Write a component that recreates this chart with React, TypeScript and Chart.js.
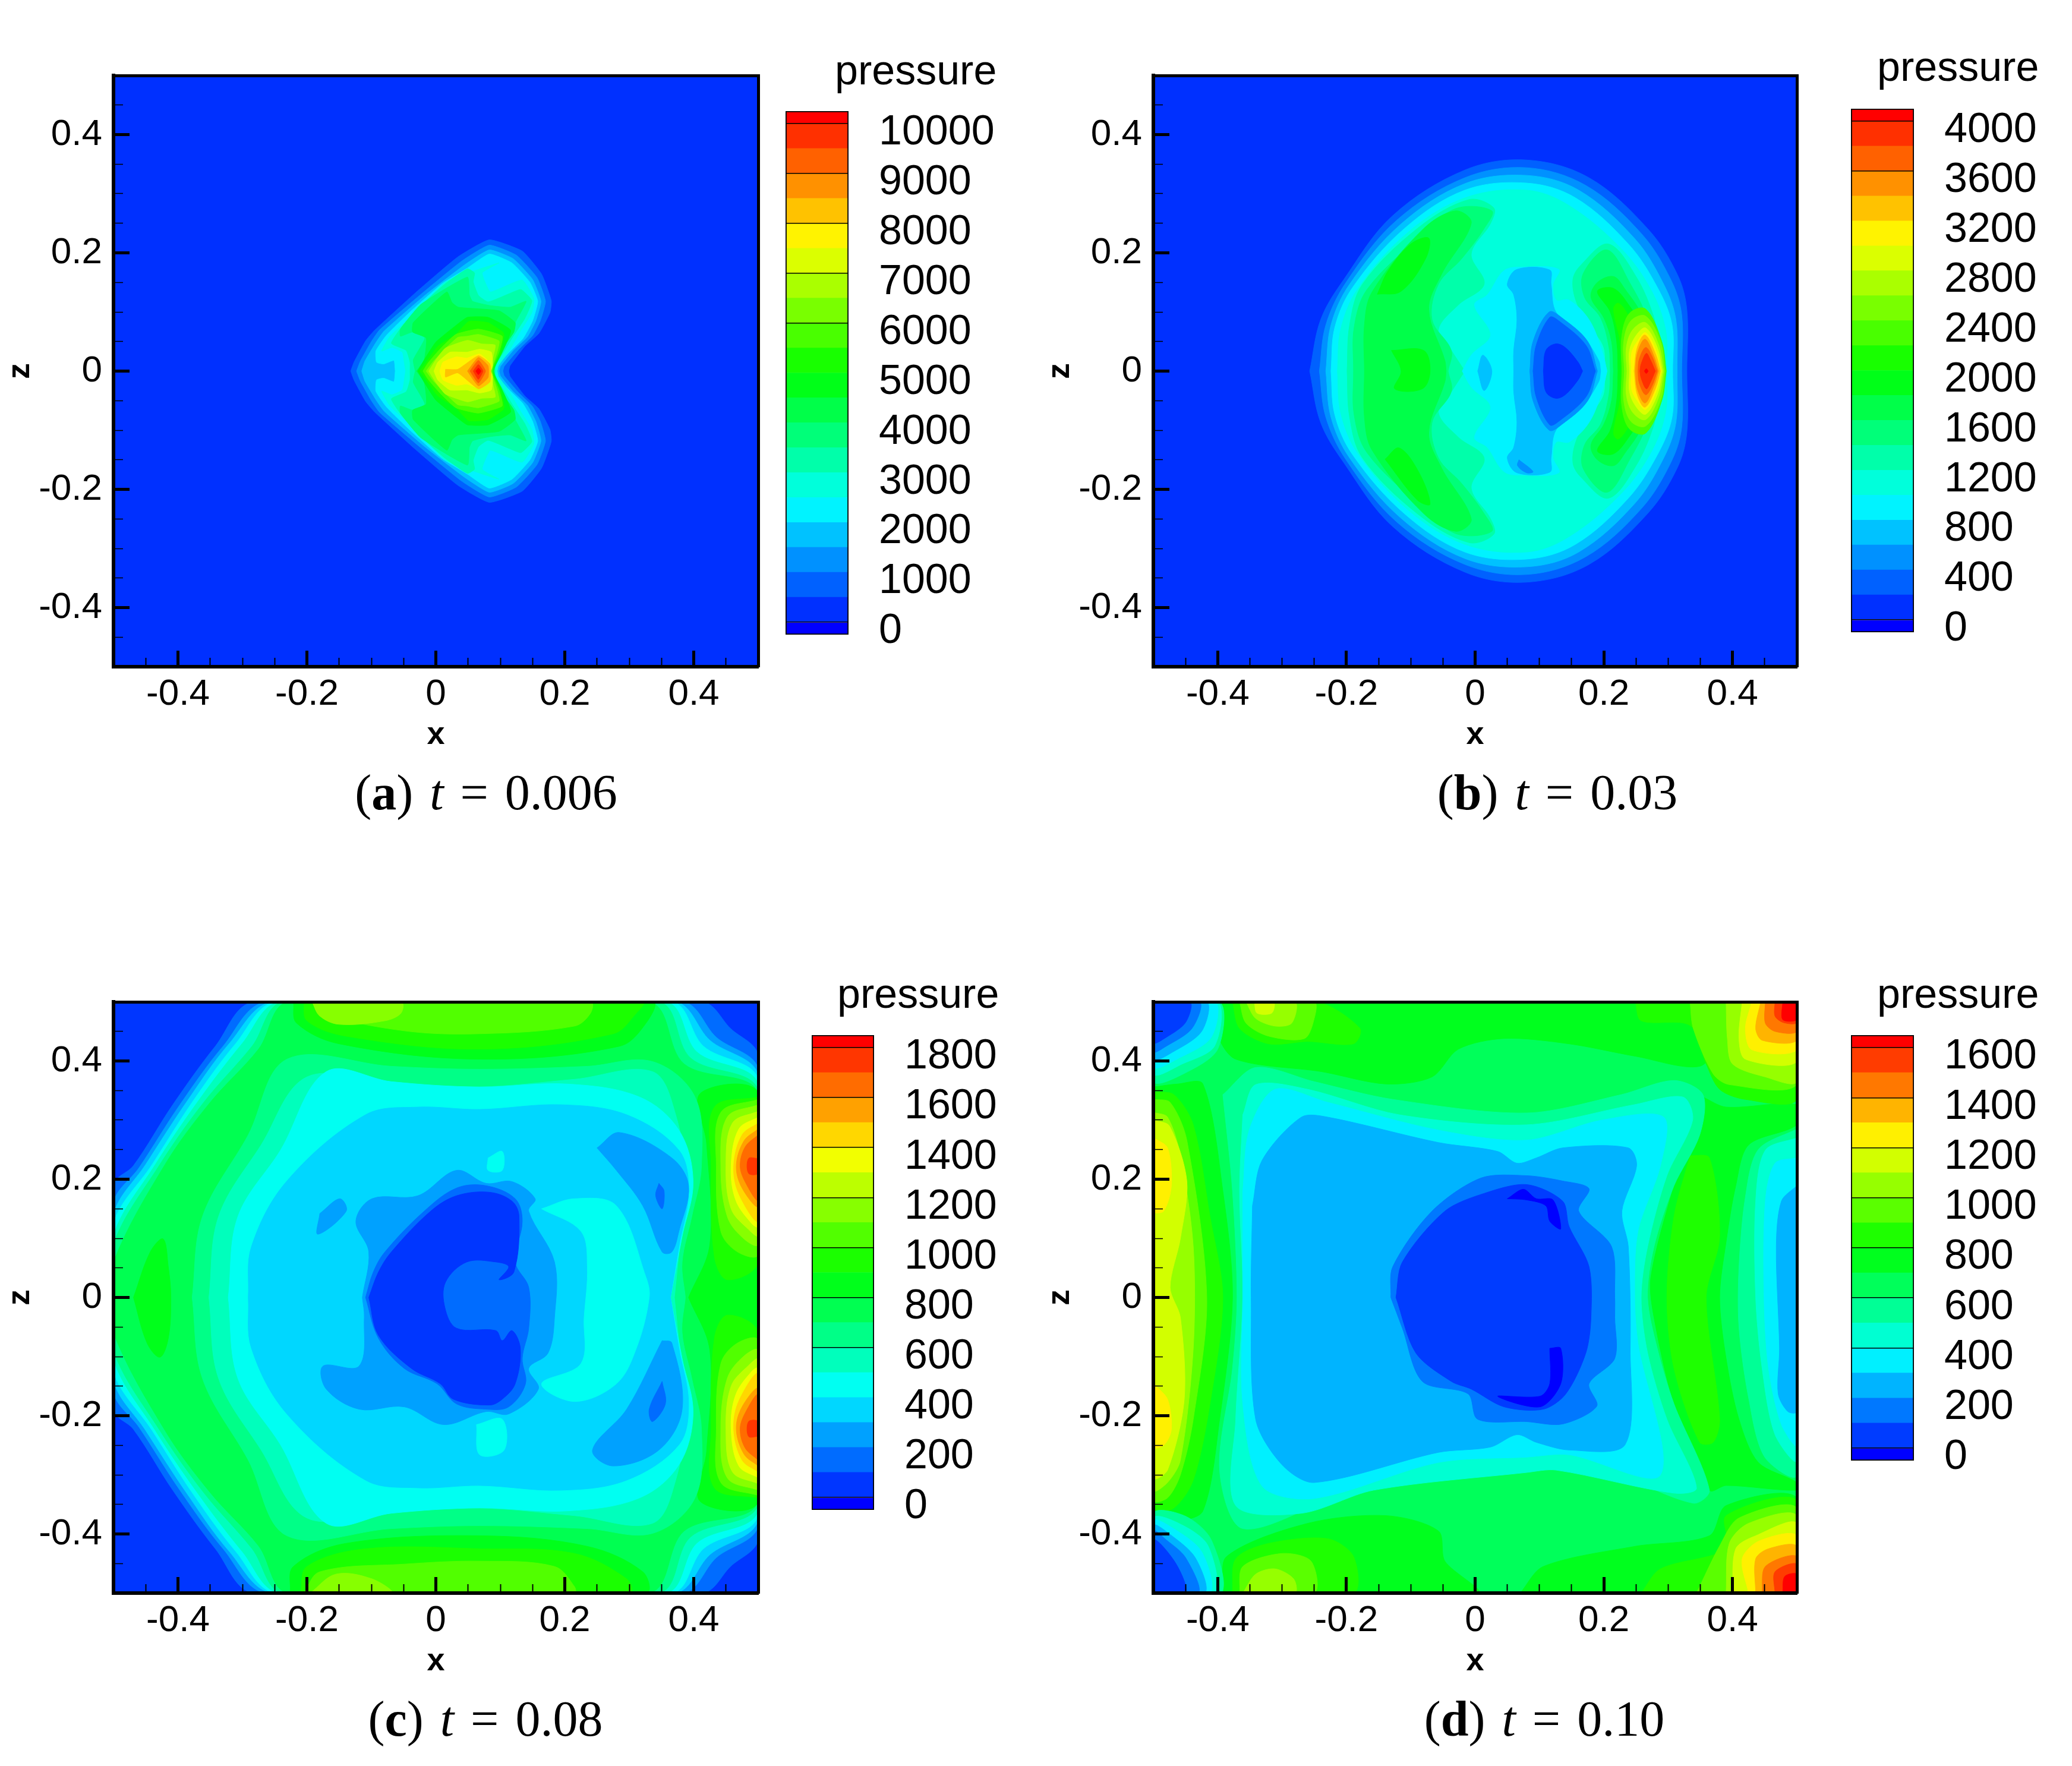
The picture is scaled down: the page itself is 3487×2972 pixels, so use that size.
import React, { useEffect, useRef } from "react";
import { Chart, registerables } from "chart.js";

Chart.register(...registerables);

type P = [number, number];
type Layer = [number, P[]];

// ---------- colour bands (lowest band first) ----------
const bandColorsAB = ["#0000ff","#0030ff","#0061ff","#0091ff","#00c2ff","#00f3ff","#00ffdb","#00ffaa","#00ff79","#00ff49","#00ff18","#18ff00","#49ff00","#79ff00","#aaff00","#dbff00","#fff300","#ffc200","#ff9100","#ff6100","#ff3000","#ff0000"];
const bandColorsC = ["#0000ff","#0036ff","#006cff","#00a1ff","#00d7ff","#00fff2","#00ffbc","#00ff87","#00ff51","#00ff1b","#1bff00","#51ff00","#87ff00","#bcff00","#f2ff00","#ffd700","#ffa100","#ff6c00","#ff3600","#ff0000"];
const bandColorsD = ["#0000ff","#003cff","#0078ff","#00b4ff","#00f0ff","#00ffd2","#00ff96","#00ff5a","#00ff1e","#1eff00","#5aff00","#96ff00","#d2ff00","#fff000","#ffb400","#ff7800","#ff3c00","#ff0000"];

// ---------- colour bar levels ----------
const edgesA = [-250,0,500,1000,1500,2000,2500,3000,3500,4000,4500,5000,5500,6000,6500,7000,7500,8000,8500,9000,9500,10000,10250];
const edgesB = [-100,0,200,400,600,800,1000,1200,1400,1600,1800,2000,2200,2400,2600,2800,3000,3200,3400,3600,3800,4000,4100];
const edgesC = [-50,0,100,200,300,400,500,600,700,800,900,1000,1100,1200,1300,1400,1500,1600,1700,1800,1850];
const edgesD = [-50,0,100,200,300,400,500,600,700,800,900,1000,1100,1200,1300,1400,1500,1600,1650];
const labelsA = [0,1000,2000,3000,4000,5000,6000,7000,8000,9000,10000];
const labelsB = [0,400,800,1200,1600,2000,2400,2800,3200,3600,4000];
const labelsC = [0,200,400,600,800,1000,1200,1400,1600,1800];
const labelsD = [0,200,400,600,800,1000,1200,1400,1600];
const linesA = [0,6000,7000,8000,9000,10000];
const linesB = [0,3600,4000];
const linesC = [0,600,800,1000,1200,1400,1600,1800];
const linesD = [0,400,600,800,1000,1200,1400,1600];

// ---------- axis ticks ----------
const majorTicks = [-0.4,-0.2,0,0.2,0.4];
const minorTicks = [-0.45,-0.35,-0.3,-0.25,-0.15,-0.1,-0.05,0.05,0.1,0.15,0.25,0.3,0.35,0.45];

const whole: P[] = [[-0.5,0.5],[0.5,0.5],[0.5,-0.5],[-0.5,-0.5]];

const mirrored = (half: P[]): P[] => half.concat(half.slice().reverse().map(([x, z]) => [x, -z] as P));
const flipped = (poly: P[]): P[] => poly.map(([x, z]) => [x, -z] as P);

// ---------- panel (a), upper-half contours ----------
const a1: P[] = [[-0.132,0],[-0.127,0.015],[-0.109,0.051],[-0.095,0.069],[-0.031,0.133],[0.034,0.193],[0.083,0.222],[0.134,0.203],[0.164,0.164],[0.179,0.119],[0.177,0.099],[0.16,0.064],[0.138,0.042],[0.115,0.009],[0.113,0]];
const a2: P[] = [[-0.123,0],[-0.117,0.017],[-0.1,0.05],[-0.087,0.07],[-0.023,0.13],[0.04,0.186],[0.083,0.213],[0.125,0.196],[0.157,0.158],[0.17,0.118],[0.162,0.085],[0.15,0.06],[0.128,0.036],[0.106,0.008],[0.104,0]];
const a3: P[] = [[-0.115,0],[-0.11,0.017],[-0.092,0.05],[-0.08,0.068],[-0.017,0.128],[0.045,0.18],[0.083,0.205],[0.12,0.19],[0.15,0.155],[0.163,0.118],[0.155,0.085],[0.142,0.058],[0.12,0.035],[0.1,0.008],[0.098,0]];
const a4: P[] = [[-0.063,0],[-0.065,0.018],[-0.081,0.012],[-0.092,0.015],[-0.093,0.034],[-0.077,0.06],[-0.04,0.1],[0.01,0.148],[0.05,0.175],[0.083,0.198],[0.118,0.183],[0.146,0.15],[0.158,0.118],[0.15,0.085],[0.135,0.055],[0.112,0.03],[0.095,0.008],[0.094,0]];
const a5: P[] = [[-0.047,0],[-0.049,0.015],[-0.052,0.032],[-0.068,0.04],[-0.084,0.034],[-0.071,0.059],[-0.031,0.099],[0.015,0.151],[0.098,0.183],[0.072,0.166],[0.084,0.134],[0.098,0.139],[0.134,0.154],[0.152,0.123],[0.149,0.099],[0.132,0.069],[0.114,0.035],[0.097,0.009],[0.095,0]];
const a6: P[] = [[-0.04,0],[-0.04,0.015],[-0.046,0.035],[-0.069,0.047],[-0.052,0.076],[-0.015,0.119],[0.015,0.148],[0.049,0.173],[0.06,0.166],[0.058,0.151],[0.066,0.128],[0.081,0.117],[0.114,0.131],[0.132,0.138],[0.149,0.119],[0.138,0.089],[0.12,0.059],[0.101,0.025],[0.092,0.009],[0.092,0]];
const a7: P[] = [[-0.032,0],[-0.035,0.019],[-0.017,0.056],[-0.036,0.066],[-0.055,0.059],[-0.055,0.071],[-0.023,0.113],[0.049,0.159],[0.052,0.129],[0.057,0.118],[0.083,0.111],[0.115,0.108],[0.14,0.118],[0.123,0.082],[0.104,0.039],[0.091,0.005],[0.091,0]];
const a8: P[] = [[-0.03,0],[-0.018,0.019],[-0.015,0.056],[-0.036,0.066],[-0.035,0.082],[0.017,0.134],[0.025,0.116],[0.035,0.108],[0.098,0.102],[0.123,0.082],[0.121,0.066],[0.104,0.039],[0.091,0.005],[0.09,0]];
const a9: P[] = [[-0.028,0],[-0.018,0.019],[0,0.049],[0.031,0.077],[0.049,0.091],[0.081,0.091],[0.116,0.069],[0.103,0.032],[0.092,0.009],[0.089,0]];
const a10: P[] = [[-0.025,0],[-0.015,0.015],[0.003,0.042],[0.031,0.062],[0.051,0.084],[0.081,0.082],[0.104,0.066],[0.106,0.06],[0.1,0.03],[0.09,0.008],[0.088,0]];
const a11: P[] = [[-0.02,0],[-0.012,0.014],[0.008,0.039],[0.031,0.062],[0.066,0.071],[0.103,0.059],[0.098,0.032],[0.089,0.009],[0.088,0]];
const a12: P[] = [[-0.015,0],[-0.005,0.015],[0.012,0.035],[0.034,0.057],[0.049,0.059],[0.066,0.062],[0.098,0.051],[0.095,0.032],[0.088,0.009],[0.086,0]];
const a13: P[] = [[-0.011,0],[0,0.019],[0.015,0.039],[0.049,0.052],[0.071,0.046],[0.092,0.044],[0.089,0.025],[0.085,0]];
const a14: P[] = [[-0.003,0],[0.003,0.015],[0.022,0.032],[0.048,0.032],[0.068,0.037],[0.086,0.032],[0.088,0.009],[0.085,0]];
const a15: P[] = [[0.006,0],[0.011,0.015],[0.032,0.024],[0.048,0.022],[0.068,0.029],[0.084,0.014],[0.084,0]];
const a16: P[] = [[0.015,0.003],[0.034,0.003],[0.066,0.026],[0.084,0.012],[0.084,-0.018],[0.066,-0.03],[0.034,-0.003],[0.015,-0.01]];
const a17: P[] = [[0.049,0],[0.066,0.023],[0.081,0.009],[0.081,-0.011],[0.066,-0.025]];
const a18: P[] = [[0.053,0],[0.066,0.018],[0.077,0],[0.066,-0.02]];
const a19: P[] = [[0.058,0],[0.066,0.011],[0.073,0],[0.066,-0.014]];
const a20: P[] = [[0.062,0],[0.066,0.005],[0.07,0],[0.066,-0.006]];

const layersA: Layer[] = [
  [0,whole],[1,mirrored(a1)],[2,mirrored(a2)],[3,mirrored(a3)],[4,mirrored(a4)],[5,mirrored(a5)],[6,mirrored(a6)],[7,mirrored(a7)],[8,mirrored(a8)],[9,mirrored(a9)],[10,mirrored(a10)],[11,mirrored(a11)],[12,mirrored(a12)],[13,mirrored(a13)],[14,mirrored(a14)],[15,mirrored(a15)],[16,a16],[17,a17],[18,a18],[19,a19],[20,a20],
];

// ---------- panel (b) ----------
const b1: P[] = [[-0.257,0],[-0.24,0.087],[-0.204,0.155],[-0.128,0.263],[-0.016,0.34],[0.08,0.357],[0.177,0.327],[0.268,0.241],[0.314,0.164],[0.329,0.104],[0.329,0]];
const b2: P[] = [[-0.242,0],[-0.232,0.078],[-0.2,0.151],[-0.122,0.255],[-0.016,0.327],[0.08,0.344],[0.172,0.314],[0.258,0.233],[0.304,0.155],[0.321,0.095],[0.321,0]];
const b3: P[] = [[-0.232,0],[-0.224,0.078],[-0.195,0.147],[-0.116,0.248],[-0.016,0.317],[0.08,0.331],[0.161,0.306],[0.248,0.224],[0.293,0.147],[0.312,0.087],[0.314,0]];
const b4: P[] = [[-0.224,0],[-0.218,0.074],[-0.19,0.142],[-0.11,0.241],[-0.016,0.306],[0.08,0.318],[0.156,0.293],[0.238,0.215],[0.283,0.142],[0.306,0.078],[0.307,0]];
const b5: P[] = [[-0.214,0],[-0.209,0.07],[-0.183,0.138],[-0.105,0.234],[-0.016,0.293],[0.08,0.306],[0.146,0.28],[0.227,0.207],[0.273,0.138],[0.296,0.07],[0.298,0]];
const b6L: P[] = [[-0.199,0],[-0.195,0.078],[-0.175,0.147],[-0.09,0.241],[-0.01,0.29],[0.029,0.276],[0.024,0.25],[-0.006,0.198],[0.014,0.147],[-0.026,0.112],[-0.057,0.07],[-0.037,0.035],[-0.016,0]];
const b6R: P[] = [[0.29,0],[0.283,0.05],[0.278,0.09],[0.25,0.16],[0.207,0.215],[0.165,0.18],[0.152,0.155],[0.158,0.115],[0.18,0.075],[0.2,0.04],[0.202,0]];
const b7L: P[] = [[-0.189,0],[-0.188,0.074],[-0.168,0.138],[-0.085,0.228],[-0.03,0.275],[0.026,0.271],[0.014,0.241],[-0.021,0.19],[-0.057,0.147],[-0.067,0.087],[-0.037,0.035],[-0.042,0]];
const b7R: P[] = [[0.278,0],[0.27,0.08],[0.24,0.15],[0.205,0.205],[0.168,0.165],[0.17,0.125],[0.195,0.09],[0.208,0.04],[0.21,0]];
const b8L: P[] = [[-0.172,0],[-0.172,0.078],[-0.16,0.134],[-0.08,0.241],[-0.03,0.271],[-0.006,0.25],[-0.052,0.164],[-0.072,0.104],[-0.047,0.018],[-0.045,0]];
const b8R: P[] = [[0.27,0],[0.26,0.09],[0.232,0.14],[0.215,0.16],[0.19,0.15],[0.18,0.125],[0.2,0.09],[0.212,0.05],[0.215,0]];
const b9Upper: P[] = [[-0.152,0.13],[-0.135,0.17],[-0.1,0.215],[-0.072,0.225],[-0.077,0.19],[-0.115,0.135]];
const b9Lower: P[] = [[-0.14,-0.149],[-0.09,-0.218],[-0.07,-0.225],[-0.088,-0.17],[-0.118,-0.13]];
const b9Mid: P[] = [[-0.13,0.035],[-0.08,0.035],[-0.07,0],[-0.082,-0.03],[-0.125,-0.03],[-0.115,0]];
const b9R: P[] = [[0.262,0],[0.255,0.08],[0.24,0.11],[0.215,0.14],[0.19,0.135],[0.21,0.1],[0.22,0.05],[0.222,0]];
const b10: P[] = [[0.26,0],[0.252,0.06],[0.235,0.1],[0.222,0.115],[0.215,0.105],[0.225,0.05],[0.226,0]];
const b11: P[] = [[0.297,0],[0.29,0.05],[0.265,0.105],[0.24,0.098],[0.228,0.06],[0.228,0]];
const b12: P[] = [[0.295,0],[0.288,0.05],[0.265,0.093],[0.242,0.085],[0.231,0.05],[0.232,0]];
const b13: P[] = [[0.293,0],[0.285,0.045],[0.265,0.082],[0.245,0.07],[0.235,0.04],[0.236,0]];
const b14: P[] = [[0.291,0],[0.283,0.04],[0.265,0.073],[0.25,0.06],[0.24,0.035],[0.24,0]];
const b15: P[] = [[0.289,0],[0.281,0.035],[0.265,0.065],[0.252,0.05],[0.243,0.03],[0.243,0]];
const b16: P[] = [[0.288,0],[0.28,0.03],[0.264,0.061],[0.252,0.04],[0.247,0]];
const b17: P[] = [[0.285,0],[0.278,0.025],[0.264,0.054],[0.252,0.03],[0.249,0]];
const b18: P[] = [[0.283,0],[0.275,0.025],[0.265,0.04],[0.255,0.02],[0.253,0]];
const b19: P[] = [[0.28,0],[0.272,0.02],[0.266,0.03],[0.258,0.012],[0.256,0]];
const b20: P[] = [[0.269,0],[0.266,0.004],[0.263,0]];
const bHole4: P[] = [[-0.02,0],[-0.006,0.027],[0.024,0.061],[-0.001,0.112],[0.019,0.129],[0.045,0.17],[0.075,0.176],[0.13,0.172],[0.121,0.146],[0.126,0.12],[0.146,0.12],[0.177,0.087],[0.197,0.035],[0.205,0]];
const bHole3: P[] = [[0.06,0],[0.06,0.035],[0.065,0.086],[0.06,0.129],[0.05,0.147],[0.065,0.172],[0.116,0.171],[0.118,0.147],[0.126,0.099],[0.166,0.061],[0.192,0.018],[0.195,0]];
const bHole3Small: P[] = [[0.004,0],[0.012,0.027],[0.026,0],[0.014,-0.033]];
const bHole2: P[] = [[0.085,0],[0.09,0.05],[0.115,0.1],[0.135,0.09],[0.175,0.05],[0.19,0]];
const bHole1: P[] = [[0.09,0],[0.095,0.044],[0.116,0.091],[0.13,0.085],[0.172,0.044],[0.187,0]];
const bHole0: P[] = [[0.106,0],[0.11,0.035],[0.125,0.046],[0.14,0.04],[0.16,0.015],[0.167,0]];
const bSpot: P[] = [[0.068,-0.15],[0.09,-0.17],[0.08,-0.172],[0.066,-0.16]];

const layersB: Layer[] = [
  [0,whole],[1,mirrored(b1)],[2,mirrored(b2)],[3,mirrored(b3)],[4,mirrored(b4)],[5,mirrored(b5)],
  [6,mirrored(b6L)],[6,mirrored(b6R)],[7,mirrored(b7L)],[7,mirrored(b7R)],[8,mirrored(b8L)],[8,mirrored(b8R)],
  [9,b9Upper],[9,b9Lower],[9,b9Mid],[9,mirrored(b9R)],[10,mirrored(b10)],[11,mirrored(b11)],[12,mirrored(b12)],[13,mirrored(b13)],[14,mirrored(b14)],[15,mirrored(b15)],[16,mirrored(b16)],[17,mirrored(b17)],[18,mirrored(b18)],[19,mirrored(b19)],[20,mirrored(b20)],
  [4,mirrored(bHole4)],[3,mirrored(bHole3)],[3,bHole3Small],[2,mirrored(bHole2)],[1,mirrored(bHole1)],[0,mirrored(bHole0)],[2,bSpot],
];

// ---------- panel (c) ----------
const c1: P[] = [[-0.5,0],[-0.5,0.19],[-0.469,0.223],[-0.408,0.326],[-0.342,0.425],[-0.281,0.5],[0.412,0.5],[0.457,0.455],[0.5,0.408],[0.5,0]];
const c2: P[] = [[-0.5,0],[-0.5,0.16],[-0.46,0.22],[-0.397,0.326],[-0.33,0.425],[-0.262,0.5],[0.382,0.5],[0.435,0.44],[0.5,0.385],[0.5,0]];
const c3: P[] = [[-0.5,0],[-0.5,0.14],[-0.45,0.225],[-0.387,0.33],[-0.32,0.43],[-0.252,0.5],[0.37,0.5],[0.425,0.435],[0.5,0.375],[0.5,0]];
const c4: P[] = [[-0.5,0],[-0.5,0.125],[-0.44,0.225],[-0.378,0.33],[-0.31,0.43],[-0.247,0.5],[0.365,0.5],[0.415,0.425],[0.5,0.368],[0.5,0]];
const c5: P[] = [[-0.5,0],[-0.5,0.105],[-0.435,0.225],[-0.37,0.33],[-0.3,0.43],[-0.241,0.5],[0.356,0.5],[0.405,0.415],[0.5,0.36],[0.5,0]];
const c6: P[] = [[-0.5,0],[-0.5,0.09],[-0.428,0.225],[-0.36,0.33],[-0.285,0.425],[-0.236,0.5],[0.345,0.5],[0.395,0.405],[0.5,0.35],[0.5,0]];
const c7: P[] = [[-0.5,0],[-0.5,0.06],[-0.42,0.225],[-0.35,0.33],[-0.275,0.42],[-0.228,0.5],[0.33,0.5],[0.385,0.395],[0.5,0.345],[0.5,0]];
const cHole6: P[] = [[-0.378,0],[-0.362,0.137],[-0.291,0.275],[-0.231,0.403],[-0.069,0.391],[0.068,0.386],[0.235,0.391],[0.336,0.399],[0.402,0.339],[0.412,0.223],[0.397,0.137],[0.382,0.06],[0.387,0]];
const cHole5: P[] = [[-0.352,0],[-0.337,0.137],[-0.271,0.258],[-0.2,0.373],[-0.069,0.361],[0.068,0.356],[0.215,0.369],[0.336,0.382],[0.372,0.309],[0.387,0.197],[0.378,0.086],[0.37,0]];
const cHole4: P[] = [[-0.322,0],[-0.307,0.137],[-0.241,0.249],[-0.17,0.382],[-0.069,0.365],[0.068,0.356],[0.204,0.361],[0.316,0.339],[0.377,0.283],[0.399,0.197],[0.382,0.103],[0.364,0]];
const cHole3: P[] = [[-0.291,0],[-0.286,0.086],[-0.231,0.197],[-0.109,0.309],[-0.028,0.322],[0.068,0.318],[0.194,0.326],[0.296,0.309],[0.377,0.249],[0.392,0.18],[0.377,0.086],[0.364,0]];
const cCyanRight: P[] = [[0.164,0.15],[0.215,0.167],[0.28,0.155],[0.326,0.034],[0.331,0],[0.311,-0.086],[0.28,-0.146],[0.215,-0.176],[0.164,-0.146],[0.225,-0.112],[0.23,-0.034],[0.235,0.052],[0.225,0.112]];
const cCyanUp: P[] = [[0.081,0.236],[0.103,0.247],[0.103,0.215],[0.081,0.215]];
const cCyanDown: P[] = [[0.063,-0.215],[0.103,-0.206],[0.106,-0.258],[0.068,-0.266]];
const cHole2: P[] = [[-0.114,0],[-0.104,0.077],[-0.124,0.129],[-0.099,0.167],[-0.028,0.172],[0.032,0.215],[0.078,0.193],[0.118,0.196],[0.154,0.167],[0.144,0.146],[0.184,0.06],[0.184,-0.034],[0.174,-0.094],[0.144,-0.12],[0.159,-0.155],[0.113,-0.197],[0.078,-0.193],[0.012,-0.215],[-0.049,-0.185],[-0.119,-0.189],[-0.17,-0.155],[-0.175,-0.116],[-0.119,-0.116],[-0.111,-0.034]];
const cIsle2a: P[] = [[-0.18,0.142],[-0.149,0.167],[-0.139,0.146],[-0.183,0.107]];
const cIsle2b: P[] = [[0.25,0.253],[0.285,0.279],[0.366,0.236],[0.392,0.189],[0.377,0.112],[0.366,0.077],[0.351,0.077],[0.321,0.155],[0.28,0.215]];
const cIsle2c: P[] = [[0.351,-0.073],[0.366,-0.077],[0.382,-0.189],[0.346,-0.258],[0.275,-0.285],[0.243,-0.258],[0.296,-0.189]];
const cHole1: P[] = [[-0.109,0],[-0.097,0.043],[-0.079,0.077],[-0.018,0.146],[0.032,0.185],[0.078,0.189],[0.123,0.167],[0.134,0.129],[0.123,0.06],[0.144,0.017],[0.144,-0.052],[0.134,-0.103],[0.139,-0.146],[0.113,-0.185],[0.078,-0.189],[0.032,-0.18],[0.002,-0.146],[-0.049,-0.12],[-0.089,-0.069]];
const cIsle1a: P[] = [[0.346,0.193],[0.354,0.18],[0.351,0.15],[0.341,0.172]];
const cIsle1b: P[] = [[0.351,-0.142],[0.356,-0.18],[0.336,-0.21],[0.331,-0.189]];
const cHole0: P[] = [[-0.104,0],[-0.089,0.043],[-0.069,0.077],[-0.008,0.146],[0.032,0.172],[0.083,0.178],[0.118,0.163],[0.129,0.137],[0.121,0.043],[0.098,0.03],[0.113,0.052],[0.093,0.06],[0.048,0.06],[0.015,0.026],[0.014,-0.017],[0.032,-0.052],[0.093,-0.056],[0.103,-0.073],[0.118,-0.056],[0.131,-0.086],[0.123,-0.146],[0.103,-0.172],[0.083,-0.182],[0.027,-0.172],[0.007,-0.146],[-0.038,-0.12],[-0.089,-0.064]];
const cLeftLobe: P[] = [[-0.469,0],[-0.443,0.077],[-0.423,0.099],[-0.415,0.052],[-0.411,0],[-0.415,-0.069],[-0.428,-0.101],[-0.448,-0.077]];
const cTop8: P[] = [[-0.221,0.5],[-0.216,0.464],[-0.15,0.429],[0.068,0.403],[0.285,0.425],[0.326,0.464],[0.336,0.5]];
const cTop9: P[] = [[-0.205,0.5],[-0.2,0.468],[-0.14,0.442],[0.068,0.42],[0.275,0.446],[0.311,0.481],[0.321,0.5]];
const cTop10: P[] = [[-0.192,0.5],[-0.18,0.481],[-0.049,0.451],[0.068,0.446],[0.215,0.459],[0.24,0.481],[0.24,0.5]];
const cTop11: P[] = [[-0.192,0.5],[-0.18,0.476],[-0.15,0.462],[-0.079,0.468],[-0.054,0.481],[-0.054,0.5]];
const cBot8: P[] = [[-0.226,-0.5],[-0.221,-0.455],[-0.14,-0.416],[0.068,-0.403],[0.235,-0.421],[0.321,-0.464],[0.326,-0.5]];
const cBot9: P[] = [[-0.21,-0.5],[-0.2,-0.455],[-0.109,-0.425],[0.068,-0.425],[0.215,-0.433],[0.296,-0.476],[0.301,-0.5]];
const cBot10: P[] = [[-0.205,-0.5],[-0.18,-0.464],[-0.049,-0.451],[0.068,-0.446],[0.184,-0.455],[0.215,-0.489],[0.215,-0.5]];
const cBot11: P[] = [[-0.195,-0.5],[-0.155,-0.468],[-0.099,-0.476],[-0.069,-0.5]];
const cRight8: P[] = [[0.5,0],[0.5,0.345],[0.41,0.345],[0.42,0.26],[0.425,0.09],[0.392,0]];
const cLobe9: P[] = [[0.5,0.339],[0.432,0.322],[0.427,0.223],[0.432,0.069],[0.452,0.03],[0.5,0.06]];
const cLobe10: P[] = [[0.5,0.335],[0.442,0.313],[0.435,0.223],[0.442,0.112],[0.468,0.077],[0.5,0.073]];
const cLobe11: P[] = [[0.5,0.326],[0.452,0.305],[0.442,0.223],[0.452,0.137],[0.478,0.099],[0.5,0.09]];
const cLobe12: P[] = [[0.5,0.315],[0.46,0.295],[0.45,0.223],[0.458,0.15],[0.485,0.115],[0.5,0.105]];
const cLobe13: P[] = [[0.5,0.305],[0.47,0.285],[0.458,0.223],[0.465,0.165],[0.49,0.125],[0.5,0.12]];
const cLobe14: P[] = [[0.5,0.295],[0.475,0.275],[0.462,0.223],[0.47,0.175],[0.5,0.13]];
const cLobe15: P[] = [[0.5,0.285],[0.478,0.265],[0.466,0.223],[0.475,0.185],[0.5,0.155]];
const cLobe16: P[] = [[0.5,0.275],[0.48,0.255],[0.472,0.223],[0.48,0.195],[0.5,0.165]];
const cLobe17: P[] = [[0.5,0.235],[0.485,0.235],[0.485,0.21],[0.5,0.21]];
const cLobes: [number, P[]][] = [[9,cLobe9],[10,cLobe10],[11,cLobe11],[12,cLobe12],[13,cLobe13],[14,cLobe14],[15,cLobe15],[16,cLobe16],[17,cLobe17]];

const layersC: Layer[] = [
  [0,whole],[1,mirrored(c1)],[2,mirrored(c2)],[3,mirrored(c3)],[4,mirrored(c4)],[5,mirrored(c5)],[6,mirrored(c6)],[7,mirrored(c7)],
  [8,cLeftLobe],[8,cTop8],[9,cTop9],[10,cTop10],[11,cTop11],[8,cBot8],[9,cBot9],[10,cBot10],[11,cBot11],[8,mirrored(cRight8)],
  ...cLobes.flatMap(([k, p]) => [[k, p], [k, flipped(p)]] as Layer[]),
  [6,mirrored(cHole6)],[5,mirrored(cHole5)],[4,mirrored(cHole4)],[3,mirrored(cHole3)],[4,cCyanRight],[4,cCyanUp],[4,cCyanDown],
  [2,cHole2],[2,cIsle2a],[2,cIsle2b],[2,cIsle2c],[1,cHole1],[1,cIsle1a],[1,cIsle1b],[0,cHole0],
];

// ---------- panel (d) ----------
const dTop7: P[] = [[-0.397,0.5],[-0.4,0.445],[-0.372,0.403],[-0.239,0.382],[-0.138,0.361],[-0.067,0.373],[-0.026,0.42],[0.045,0.438],[0.146,0.429],[0.249,0.408],[0.349,0.391],[0.38,0.438],[0.39,0.5]];
const dBL7: P[] = [[-0.391,-0.5],[-0.386,-0.438],[-0.26,-0.382],[-0.138,-0.369],[-0.057,-0.395],[-0.047,-0.446],[0.004,-0.5]];
const dBR7: P[] = [[0.07,-0.5],[0.106,-0.455],[0.248,-0.421],[0.364,-0.403],[0.39,-0.352],[0.5,-0.339],[0.5,-0.5]];
const dLeft7: P[] = [[-0.5,0.356],[-0.463,0.361],[-0.423,0.361],[-0.392,0.18],[-0.377,0],[-0.397,-0.206],[-0.423,-0.361],[-0.463,-0.378],[-0.5,-0.373]];
const dRight7: P[] = [[0.354,0.339],[0.39,0.322],[0.5,0.326],[0.5,0.292],[0.425,0.258],[0.405,0.189],[0.39,0.094],[0.38,0],[0.39,-0.103],[0.41,-0.206],[0.44,-0.279],[0.5,-0.313],[0.5,-0.326],[0.39,-0.318],[0.364,-0.326],[0.309,-0.18],[0.278,-0.034],[0.273,0.034],[0.309,0.189]];
const dLeft8: P[] = [[-0.5,0.348],[-0.468,0.343],[-0.438,0.292],[-0.412,0.137],[-0.392,0],[-0.412,-0.18],[-0.438,-0.309],[-0.468,-0.356],[-0.5,-0.36]];
const dLeft9: P[] = [[-0.5,0.335],[-0.474,0.33],[-0.448,0.266],[-0.417,0],[-0.438,-0.206],[-0.458,-0.3],[-0.478,-0.339],[-0.5,-0.343]];
const dLeft10: P[] = [[-0.5,0.313],[-0.478,0.305],[-0.458,0.24],[-0.438,0.086],[-0.438,-0.086],[-0.458,-0.275],[-0.478,-0.313],[-0.5,-0.326]];
const dLeft11: P[] = [[-0.5,0.3],[-0.475,0.29],[-0.448,0.197],[-0.458,0.1],[-0.474,0.017],[-0.458,-0.034],[-0.452,-0.172],[-0.478,-0.292],[-0.5,-0.305]];
const dLeft12a: P[] = [[-0.5,0.27],[-0.478,0.253],[-0.472,0.189],[-0.484,0.146],[-0.5,0.146]];
const dLeft12b: P[] = [[-0.5,-0.146],[-0.478,-0.172],[-0.472,-0.223],[-0.483,-0.249],[-0.5,-0.253]];
const dLobe8: P[] = [[0.334,0.24],[0.364,0.236],[0.38,0.103],[0.359,0],[0.38,-0.206],[0.37,-0.245],[0.349,-0.245],[0.309,-0.12],[0.298,0],[0.309,0.137]];
const dTL8: P[] = [[-0.377,0.5],[-0.366,0.455],[-0.321,0.429],[-0.26,0.433],[-0.189,0.429],[-0.179,0.455],[-0.245,0.5]];
const dTL9: P[] = [[-0.366,0.5],[-0.356,0.464],[-0.321,0.442],[-0.265,0.438],[-0.25,0.472],[-0.25,0.5]];
const dTL10: P[] = [[-0.356,0.5],[-0.341,0.472],[-0.311,0.459],[-0.285,0.464],[-0.28,0.5]];
const dTL11: P[] = [[-0.343,0.5],[-0.339,0.481],[-0.316,0.481],[-0.313,0.5]];
const dBL8: P[] = [[-0.377,-0.5],[-0.372,-0.442],[-0.321,-0.416],[-0.229,-0.408],[-0.189,-0.438],[-0.189,-0.5]];
const dBL9: P[] = [[-0.366,-0.5],[-0.361,-0.455],[-0.3,-0.433],[-0.255,-0.446],[-0.25,-0.5]];
const dBL10: P[] = [[-0.361,-0.5],[-0.341,-0.468],[-0.311,-0.459],[-0.282,-0.476],[-0.28,-0.5]];
const dTR8: P[] = [[0.249,0.5],[0.258,0.468],[0.334,0.46],[0.359,0.395],[0.38,0.352],[0.42,0.335],[0.5,0.335],[0.5,0.5]];
const dTR9: P[] = [[0.334,0.5],[0.339,0.455],[0.37,0.378],[0.395,0.36],[0.5,0.36],[0.5,0.5]];
const dTR10: P[] = [[0.39,0.5],[0.392,0.438],[0.4,0.395],[0.451,0.373],[0.5,0.365],[0.5,0.5]];
const dTR11: P[] = [[0.415,0.5],[0.41,0.438],[0.42,0.403],[0.5,0.399],[0.5,0.5]];
const dTR12: P[] = [[0.43,0.5],[0.42,0.455],[0.43,0.419],[0.5,0.419],[0.5,0.5]];
const dTR13: P[] = [[0.444,0.5],[0.436,0.455],[0.446,0.435],[0.5,0.435],[0.5,0.5]];
const dTR14: P[] = [[0.451,0.5],[0.451,0.464],[0.466,0.45],[0.5,0.45],[0.5,0.5]];
const dTR15: P[] = [[0.466,0.5],[0.466,0.476],[0.479,0.465],[0.5,0.465],[0.5,0.5]];
const dTR16: P[] = [[0.478,0.5],[0.478,0.47],[0.5,0.47],[0.5,0.5]];
const dBR8: P[] = [[0.258,-0.5],[0.288,-0.459],[0.39,-0.425],[0.39,-0.369],[0.5,-0.343],[0.5,-0.5]];
const dBR9: P[] = [[0.344,-0.5],[0.38,-0.42],[0.41,-0.373],[0.5,-0.356],[0.5,-0.5]];
const dBR10: P[] = [[0.39,-0.5],[0.395,-0.416],[0.425,-0.382],[0.5,-0.369],[0.5,-0.5]];
const dBR11: P[] = [[0.4,-0.5],[0.405,-0.425],[0.436,-0.403],[0.5,-0.382],[0.5,-0.5]];
const dBR12: P[] = [[0.425,-0.5],[0.415,-0.442],[0.441,-0.412],[0.5,-0.403],[0.5,-0.5]];
const dBR13: P[] = [[0.436,-0.5],[0.436,-0.442],[0.456,-0.425],[0.5,-0.421],[0.5,-0.5]];
const dBR14: P[] = [[0.446,-0.5],[0.451,-0.455],[0.5,-0.438],[0.5,-0.5]];
const dBR15: P[] = [[0.466,-0.5],[0.466,-0.464],[0.5,-0.451],[0.5,-0.5]];
const dBR16: P[] = [[0.478,-0.5],[0.481,-0.472],[0.5,-0.468],[0.5,-0.5]];
const dTLc5: P[] = [[-0.5,0.5],[-0.397,0.5],[-0.4,0.42],[-0.45,0.38],[-0.5,0.365]];
const dTLc4: P[] = [[-0.5,0.5],[-0.4,0.5],[-0.405,0.425],[-0.455,0.395],[-0.5,0.378]];
const dTLc3: P[] = [[-0.5,0.5],[-0.404,0.5],[-0.41,0.44],[-0.46,0.405],[-0.5,0.39]];
const dTLc2: P[] = [[-0.5,0.5],[-0.417,0.5],[-0.425,0.45],[-0.47,0.415],[-0.5,0.403]];
const dTLc1: P[] = [[-0.5,0.5],[-0.428,0.5],[-0.44,0.455],[-0.48,0.425],[-0.5,0.416]];
const dTLc0: P[] = [[-0.5,0.5],[-0.443,0.5],[-0.45,0.465],[-0.48,0.44],[-0.5,0.431]];
const dBLc5: P[] = [[-0.5,-0.5],[-0.395,-0.5],[-0.41,-0.41],[-0.45,-0.37],[-0.5,-0.365]];
const dBLc4: P[] = [[-0.5,-0.5],[-0.405,-0.5],[-0.415,-0.42],[-0.455,-0.385],[-0.5,-0.373]];
const dBLc3: P[] = [[-0.5,-0.5],[-0.412,-0.5],[-0.425,-0.43],[-0.47,-0.39],[-0.5,-0.378]];
const dBLc2: P[] = [[-0.5,-0.5],[-0.42,-0.5],[-0.435,-0.44],[-0.475,-0.4],[-0.5,-0.386]];
const dBLc1: P[] = [[-0.5,-0.5],[-0.43,-0.5],[-0.45,-0.44],[-0.48,-0.41],[-0.5,-0.395]];
const dBLc0: P[] = [[-0.5,-0.5],[-0.45,-0.5],[-0.465,-0.45],[-0.5,-0.41]];
const dHole5: P[] = [[-0.392,0.343],[-0.341,0.389],[-0.25,0.365],[-0.128,0.335],[0.08,0.312],[0.227,0.343],[0.309,0.367],[0.354,0.343],[0.349,0.275],[0.309,0.189],[0.278,0.086],[0.268,0],[0.283,-0.086],[0.309,-0.18],[0.364,-0.326],[0.339,-0.348],[0.197,-0.292],[0.08,-0.292],[-0.057,-0.3],[-0.209,-0.335],[-0.361,-0.391],[-0.397,-0.292],[-0.377,-0.12],[-0.37,0],[-0.377,0.18]];
const dHole4: P[] = [[-0.361,0.309],[-0.341,0.36],[-0.26,0.352],[-0.118,0.309],[0.08,0.292],[0.247,0.326],[0.323,0.339],[0.338,0.3],[0.298,0.206],[0.268,0.086],[0.258,0],[0.268,-0.094],[0.298,-0.206],[0.344,-0.322],[0.309,-0.331],[0.126,-0.292],[0.08,-0.296],[-0.158,-0.326],[-0.27,-0.365],[-0.372,-0.352],[-0.372,-0.206],[-0.361,0],[-0.366,0.18]];
const dHole3: P[] = [[-0.361,0.18],[-0.351,0.283],[-0.311,0.352],[-0.229,0.33],[-0.057,0.283],[0.08,0.266],[0.197,0.3],[0.293,0.305],[0.288,0.223],[0.253,0.112],[0.248,0],[0.253,-0.077],[0.288,-0.3],[0.146,-0.266],[0.08,-0.27],[-0.057,-0.279],[-0.25,-0.34],[-0.331,-0.319],[-0.361,-0.18],[-0.361,0]];
const dHole2: P[] = [[-0.346,0.155],[-0.331,0.232],[-0.27,0.305],[-0.229,0.305],[-0.057,0.262],[0.035,0.247],[0.065,0.227],[0.095,0.236],[0.136,0.253],[0.238,0.253],[0.251,0.223],[0.228,0.146],[0.238,0.086],[0.241,-0.086],[0.233,-0.249],[0.146,-0.258],[0.095,-0.245],[0.065,-0.232],[0.024,-0.253],[-0.057,-0.262],[-0.25,-0.313],[-0.3,-0.283],[-0.341,-0.206],[-0.348,0]];
const dHole1: P[] = [[-0.131,0],[-0.128,0.052],[-0.067,0.146],[0.009,0.202],[0.08,0.206],[0.136,0.197],[0.177,0.184],[0.161,0.146],[0.212,0.086],[0.217,0],[0.217,-0.034],[0.217,-0.103],[0.177,-0.146],[0.189,-0.184],[0.136,-0.214],[0.08,-0.21],[0.004,-0.206],[-0.011,-0.163],[-0.082,-0.142],[-0.113,-0.052]];
const dHole0: P[] = [[-0.123,0],[-0.113,0.06],[-0.047,0.146],[0.014,0.176],[0.08,0.191],[0.136,0.163],[0.146,0.12],[0.177,0.052],[0.18,-0.034],[0.172,-0.094],[0.141,-0.163],[0.106,-0.189],[0.045,-0.185],[-0.006,-0.155],[-0.037,-0.142],[-0.092,-0.094]];
const dDarkTop: P[] = [[0.05,0.167],[0.075,0.183],[0.095,0.167],[0.121,0.165],[0.133,0.116],[0.116,0.129],[0.11,0.155],[0.08,0.165]];
const dDarkBot: P[] = [[0.116,-0.086],[0.133,-0.086],[0.133,-0.146],[0.101,-0.185],[0.035,-0.167],[0.101,-0.167],[0.116,-0.146]];
const dRightK5: P[] = [[0.5,0.285],[0.44,0.25],[0.42,0.17],[0.41,0.05],[0.41,-0.05],[0.425,-0.17],[0.45,-0.27],[0.5,-0.3]];
const dRightK4: P[] = [[0.5,0.27],[0.451,0.249],[0.436,0.163],[0.436,0],[0.446,-0.12],[0.466,-0.232],[0.5,-0.275]];
const dRightK3: P[] = [[0.5,0.236],[0.466,0.227],[0.451,0.163],[0.449,0],[0.456,-0.12],[0.476,-0.215],[0.5,-0.249]];
const dRightK2: P[] = [[0.5,0.189],[0.476,0.163],[0.468,0.086],[0.473,-0.086],[0.471,-0.163],[0.486,-0.193],[0.5,-0.193]];

const layersD: Layer[] = [
  [6,whole],[7,dTop7],[7,dBL7],[7,dBR7],[7,dLeft7],[7,dRight7],
  [8,dLeft8],[9,dLeft9],[10,dLeft10],[11,dLeft11],[12,dLeft12a],[12,dLeft12b],[8,dLobe8],
  [8,dTL8],[9,dTL9],[10,dTL10],[11,dTL11],[8,dBL8],[9,dBL9],[10,dBL10],
  [8,dTR8],[9,dTR9],[10,dTR10],[11,dTR11],[12,dTR12],[13,dTR13],[14,dTR14],[15,dTR15],[16,dTR16],
  [8,dBR8],[9,dBR9],[10,dBR10],[11,dBR11],[12,dBR12],[13,dBR13],[14,dBR14],[15,dBR15],[16,dBR16],
  [5,dTLc5],[4,dTLc4],[3,dTLc3],[2,dTLc2],[1,dTLc1],[0,dTLc0],
  [5,dBLc5],[4,dBLc4],[3,dBLc3],[2,dBLc2],[1,dBLc1],[0,dBLc0],
  [5,dRightK5],[4,dRightK4],[3,dRightK3],[2,dRightK2],
  [5,dHole5],[4,dHole4],[3,dHole3],[2,dHole2],[1,dHole1],[0,dHole0],[-1,dDarkTop],[-1,dDarkBot],
];

// ---------- drawing ----------
const SANS = '"Liberation Sans", Arial, sans-serif';
const SERIF = '"Liberation Serif", serif';

function ChartCanvas({ left, top, width, height, make }: any) {
  const ref = useRef<HTMLCanvasElement>(null);
  useEffect(() => {
    const chart = new Chart(ref.current as HTMLCanvasElement, make());
    return () => chart.destroy();
  }, []);
  return <canvas ref={ref} width={width} height={height} style={{ position: "absolute", left, top, width, height, display: "block" }} />;
}

const PAD_TOP = 40;
const AXIS_LEFT = 191;
const AXIS_BOTTOM = 170;
const PAD_RIGHT = 20;

const tickList = (vals: number[]) => (s: any) => { s.ticks = vals.map((v) => ({ value: v })); };
const noPad = (s: any) => { s.paddingTop = 0; s.paddingBottom = 0; s.paddingLeft = 0; s.paddingRight = 0; };

function contourConfig(layers: Layer[], colors: string[], tension: number): any {
  const datasets = layers.map(([k, pts]) => {
    const color = colors[k + 1];
    const closed = pts.concat([pts[0]]);
    return {
      data: closed.map(([x, y]) => ({ x, y })),
      showLine: true,
      pointRadius: 0,
      borderWidth: 1,
      borderColor: color,
      backgroundColor: color,
      fill: "shape",
      tension,
    };
  }).reverse();
  const range = { type: "linear", min: -0.5, max: 0.5 };
  const zeroH = (s: any) => { noPad(s); s.height = 0; };
  const zeroW = (s: any) => { noPad(s); s.width = 0; };
  const tickFont = { family: SANS, size: 62 };
  const titleFont = { family: SANS, size: 54, weight: "bold" };
  const label = (v: any) => String(v);
  return {
    type: "scatter",
    data: { datasets },
    options: {
      animation: false,
      responsive: false,
      devicePixelRatio: 1,
      layout: { padding: { top: PAD_TOP, right: PAD_RIGHT, left: 0, bottom: 0 } },
      plugins: { legend: { display: false }, tooltip: { enabled: false } },
      scales: {
        x: {
          ...range, position: "bottom", afterBuildTicks: tickList(majorTicks),
          afterFit: (s: any) => { noPad(s); s.height = AXIS_BOTTOM; },
          border: { display: true, color: "#000", width: 6, z: 5 },
          grid: { z: 5, drawOnChartArea: false, drawTicks: true, tickLength: -27, tickWidth: 5, tickColor: "#000" },
          ticks: { color: "#000", font: tickFont, padding: 37, autoSkip: false, maxRotation: 0, callback: label },
          title: { display: true, text: "x", color: "#000", font: titleFont, padding: { top: 0, bottom: 22 } },
        },
        y: {
          ...range, position: "left", afterBuildTicks: tickList(majorTicks),
          afterFit: (s: any) => { noPad(s); s.width = AXIS_LEFT; },
          border: { display: true, color: "#000", width: 6, z: 5 },
          grid: { z: 5, drawOnChartArea: false, drawTicks: true, tickLength: -27, tickWidth: 5, tickColor: "#000" },
          ticks: { color: "#000", font: tickFont, padding: 46, autoSkip: false, callback: label },
          title: { display: true, text: "z", color: "#000", font: titleFont, padding: { top: 2, bottom: 0 } },
        },
        xMinor: {
          ...range, position: "bottom", weight: -1, afterBuildTicks: tickList(minorTicks), afterFit: zeroH,
          border: { display: false },
          grid: { z: 5, drawOnChartArea: false, drawTicks: true, tickLength: -15, tickWidth: 2, tickColor: "#000" },
          ticks: { display: false },
        },
        yMinor: {
          ...range, position: "left", weight: -1, afterBuildTicks: tickList(minorTicks), afterFit: zeroW,
          border: { display: false },
          grid: { z: 5, drawOnChartArea: false, drawTicks: true, tickLength: -16, tickWidth: 1.5, tickColor: "#000" },
          ticks: { display: false },
        },
        xTop: {
          ...range, position: "top", afterBuildTicks: tickList([]), afterFit: zeroH,
          border: { display: true, color: "#000", width: 5, z: 5 },
          grid: { display: false }, ticks: { display: false },
        },
        yRight: {
          ...range, position: "right", afterBuildTicks: tickList([]), afterFit: zeroW,
          border: { display: true, color: "#000", width: 5, z: 5 },
          grid: { display: false }, ticks: { display: false },
        },
      },
    },
  };
}

function colorbarConfig(edges: number[], colors: string[], labels: number[], lines: number[], labelShift: number): any {
  const lo = edges[0];
  const hi = edges[edges.length - 1];
  const bands = edges.slice(0, -1).map((e, i) => ({
    data: [[e, edges[i + 1]]],
    backgroundColor: colors[i],
    borderWidth: 0,
    grouped: false,
    barPercentage: 1,
    categoryPercentage: 1,
  }));
  const frame = {
    data: [[lo, hi]],
    backgroundColor: "rgba(0,0,0,0)",
    borderColor: "#000",
    borderWidth: 1.5,
    borderSkipped: false,
    grouped: false,
    barPercentage: 1,
    categoryPercentage: 1,
  };
  return {
    type: "bar",
    data: { labels: [""], datasets: [frame, ...bands] },
    options: {
      animation: false,
      responsive: false,
      devicePixelRatio: 1,
      layout: { padding: { top: 50, bottom: 50, left: 10, right: 0 } },
      plugins: { legend: { display: false }, tooltip: { enabled: false } },
      scales: {
        x: { display: false },
        y: {
          type: "linear", min: lo, max: hi, position: "left", afterBuildTicks: tickList(lines),
          afterFit: (s: any) => { noPad(s); s.width = 0; },
          border: { display: false },
          grid: { z: 3, color: "#000", lineWidth: 1.5, drawTicks: false },
          ticks: { display: false },
        },
        yLabels: {
          type: "linear", min: lo + labelShift, max: hi + labelShift, position: "right", afterBuildTicks: tickList(labels),
          afterFit: (s: any) => { noPad(s); s.width = 320; },
          border: { display: false },
          grid: { display: false, drawTicks: false },
          ticks: { color: "#000", font: { family: SANS, size: 70 }, padding: 51, autoSkip: false, callback: (v: any) => String(v) },
        },
      },
    },
  };
}

const panels = [
  { key: "a", letter: "a", t: "0.006", plotLeft: 0, plotTop: 127, plotW: 1085, layers: layersA, colors: bandColorsAB, tension: 0.15,
    cb: { left: 1322, top: 187, right: 1428, bottom: 1068 }, edges: edgesA, labels: labelsA, lines: linesA, shift: 190,
    title: { left: 1405, top: 83 }, cap: { x: 818, y: 1334 } },
  { key: "b", letter: "b", t: "0.03", plotLeft: 1750, plotTop: 127, plotW: 1083, layers: layersB, colors: bandColorsAB, tension: 0.35,
    cb: { left: 3115, top: 183, right: 3221, bottom: 1064 }, edges: edgesB, labels: labelsB, lines: linesB, shift: 76,
    title: { left: 3159, top: 77 }, cap: { x: 2621, y: 1334 } },
  { key: "c", letter: "c", t: "0.08", plotLeft: 0, plotTop: 1686, plotW: 1085, layers: layersC, colors: bandColorsC, tension: 0.35,
    cb: { left: 1366, top: 1742, right: 1471, bottom: 2541 }, edges: edgesC, labels: labelsC, lines: linesC, shift: 38,
    title: { left: 1409, top: 1637 }, cap: { x: 817, y: 2893 } },
  { key: "d", letter: "d", t: "0.10", plotLeft: 1750, plotTop: 1686, plotW: 1083, layers: layersD, colors: bandColorsD, tension: 0.3,
    cb: { left: 3115, top: 1742, right: 3221, bottom: 2458 }, edges: edgesD, labels: labelsD, lines: linesD, shift: 38,
    title: { left: 3159, top: 1637 }, cap: { x: 2599, y: 2893 } },
];

export default function App() {
  return (
    <div style={{ position: "absolute", left: 0, top: 0, width: 3487, height: 2972, background: "#fff", overflow: "hidden" }}>
      {panels.map((p) => (
        <React.Fragment key={p.key}>
          <ChartCanvas
            left={p.plotLeft}
            top={p.plotTop - PAD_TOP}
            width={AXIS_LEFT + p.plotW + PAD_RIGHT}
            height={PAD_TOP + 995 + AXIS_BOTTOM}
            make={() => contourConfig(p.layers, p.colors, p.tension)}
          />
          <ChartCanvas
            left={p.cb.left - 10}
            top={p.cb.top - 50}
            width={10 + (p.cb.right - p.cb.left) + 320}
            height={50 + (p.cb.bottom - p.cb.top) + 50}
            make={() => colorbarConfig(p.edges, p.colors, p.labels, p.lines, p.shift)}
          />
          <div style={{ position: "absolute", left: p.title.left, top: p.title.top, font: `70px/1 ${SANS}`, color: "#000", whiteSpace: "nowrap" }}>pressure</div>
          <div style={{ position: "absolute", left: p.cap.x, top: p.cap.y, transform: "translate(-50%,-50%)", font: `84px/1 ${SERIF}`, wordSpacing: 7, color: "#000", whiteSpace: "nowrap" }}>
            (<b>{p.letter}</b>) <i>t</i> = {p.t}
          </div>
        </React.Fragment>
      ))}
    </div>
  );
}
